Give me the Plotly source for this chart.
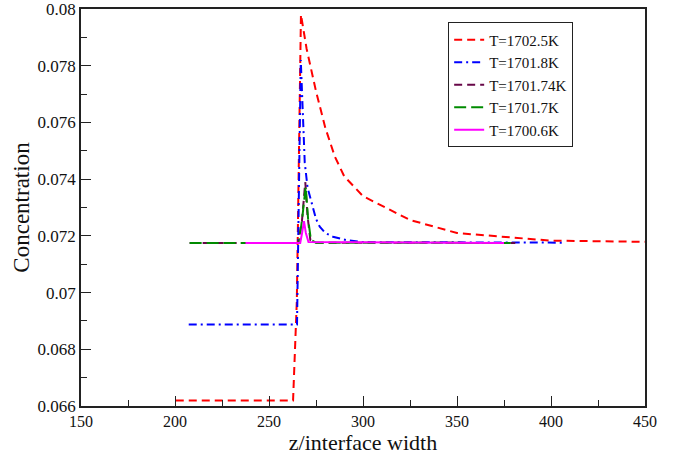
import plotly.graph_objects as go

# ---- data ----
names = ["T=1702.5K", "T=1701.8K", "T=1701.74K", "T=1701.7K", "T=1700.6K"]

z_red = [200.4, 262.8, 264.8, 267.0, 270.0, 275.0, 280.0, 285.0, 290.0, 300.0, 325.0, 350.0, 400.0, 450.0]
c_red = [0.06619, 0.06619, 0.0697, 0.0798, 0.0786, 0.0771, 0.0758, 0.0748, 0.0741, 0.0734, 0.07256, 0.0721, 0.07183, 0.07179]

z_blue = [207.3, 264.9, 266.9, 268.0, 269.0, 270.5, 272.6, 275.0, 277.0, 280.0, 284.0, 291.0, 300.0, 406.0]
c_blue = [0.06887, 0.06887, 0.0782, 0.0762, 0.0746, 0.0737, 0.07315, 0.0726, 0.07232, 0.0721, 0.07197, 0.07185, 0.07178, 0.07176]

z_purple = [207.8, 265.5, 267.5, 269.3, 270.5, 272.0, 275.0, 381.0]
c_purple = [0.07175, 0.07175, 0.0725, 0.0739, 0.0727, 0.07185, 0.07176, 0.07175]

z_green = [207.8, 266.0, 267.8, 269.5, 270.8, 272.3, 275.0, 381.0]
c_green = [0.07175, 0.07175, 0.0727, 0.07373, 0.0726, 0.07185, 0.07176, 0.07175]

z_mag = [237.5, 266.6, 267.6, 268.6, 269.6, 271.0, 375.0]
c_mag = [0.07175, 0.07175, 0.0721, 0.07252, 0.0721, 0.07178, 0.07175]

x_ticks = [150, 200, 250, 300, 350, 400, 450]
x_ticktext = ["150", "200", "250", "300", "350", "400", "450"]
y_ticks = [0.066, 0.068, 0.070, 0.072, 0.074, 0.076, 0.078, 0.080]
y_ticktext = ["0.066", "0.068", "0.07", "0.072", "0.074", "0.076", "0.078", "0.08"]

FONT = "Liberation Serif"

series = [
    (z_red, c_red, "#ff0000", "8px,5px"),
    (z_blue, c_blue, "#0000ff", "8px,4px,2px,4px"),
    (z_purple, c_purple, "#670748", "8px,5px"),
    (z_green, c_green, "#008b00", "12px,5px"),
    (z_mag, c_mag, "#ff00ff", "solid"),
]

fig = go.Figure()
for (zx, cy, col, dash), nm in zip(series, names):
    fig.add_trace(go.Scatter(x=zx, y=cy, mode="lines", name=nm,
                             line=dict(color=col, width=2, dash=dash)))

axis_common = dict(
    showgrid=False, zeroline=False, showline=True, linecolor="#222", linewidth=1.5,
    mirror=True, ticks="inside", ticklen=10, tickwidth=1, tickcolor="#222",
    automargin=False, ticklabeloverflow="allow",
)

fig.update_layout(
    width=678, height=455,
    margin=dict(l=81, r=33, t=9, b=49),
    paper_bgcolor="white", plot_bgcolor="white",
    font=dict(family=FONT, color="#111"),
    xaxis=dict(range=[150, 450], tickvals=x_ticks, ticktext=x_ticktext,
               tickfont=dict(family=FONT, size=16, color="#111"),
               minor=dict(dtick=25, tick0=150, ticks="inside", ticklen=6, tickcolor="#222"),
               title=dict(text="z/interface width", font=dict(family=FONT, size=22), standoff=3),
               **axis_common),
    yaxis=dict(range=[0.066, 0.080], tickvals=y_ticks, ticktext=y_ticktext,
               tickfont=dict(family=FONT, size=17, color="#111"),
               minor=dict(dtick=0.001, tick0=0.066, ticks="inside", ticklen=6, tickcolor="#222"),
               title=dict(text="Concentration", font=dict(family=FONT, size=23), standoff=2),
               **axis_common),
    legend=dict(x=0.651, y=0.966, xanchor="left", yanchor="top",
                bgcolor="white", bordercolor="#222", borderwidth=1,
                font=dict(family=FONT, size=15, color="#111"),
                tracegroupgap=0, itemwidth=30),
    showlegend=True,
)

fig.write_html("out.html", config={"displayModeBar": False},
               post_script="document.body.style.margin='0px';document.body.style.overflow='hidden';")
